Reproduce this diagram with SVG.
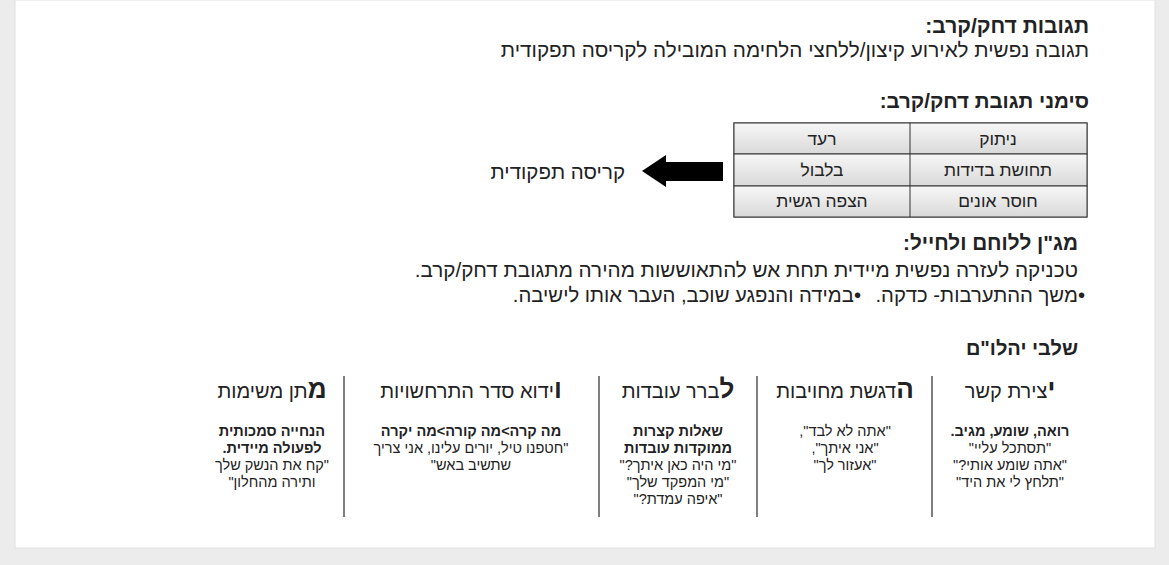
<svg xmlns="http://www.w3.org/2000/svg" width="1169" height="565" viewBox="0 0 1169 565">
<defs>
<linearGradient id="cell" x1="0" y1="0" x2="0" y2="1"><stop offset="0" stop-color="#f7f7f7"/><stop offset="1" stop-color="#d9d9d9"/></linearGradient>
<style>
text{font-family:"Liberation Sans",Arial,sans-serif;fill:#222;direction:rtl}
.r{text-anchor:start}
.c{text-anchor:middle}
.b{font-weight:bold}
.h{font-size:20.7px}
.cell{font-size:17.4px}
.hd{font-size:20px}
.big{font-size:26px;font-weight:bold}
.s{font-size:14.5px}
.div{stroke:#555;stroke-width:1.5}
</style>
</defs>
<rect width="1169" height="565" fill="#ececec"/>
<rect x="15" y="0" width="1140" height="548" fill="#fff" stroke="#e0e0e0"/>
<g id="header">
<text class="r b" style="font-size:21px" x="1089" y="33">תגובות דחק/קרב:</text>
<text class="r h" x="1089" y="57">תגובה נפשית לאירוע קיצון/ללחצי הלחימה המובילה לקריסה תפקודית</text>
<text class="r b" style="font-size:20.5px" x="1089" y="108">סימני תגובת דחק/קרב:</text>
</g>
<g id="table">
<rect x="734" y="123" width="353" height="94" fill="url(#cell)" stroke="#333"/>
<rect x="734" y="123" width="353" height="31" fill="url(#cell)" stroke="#333"/>
<rect x="734" y="154" width="353" height="32" fill="url(#cell)" stroke="#333"/>
<rect x="734" y="186" width="353" height="31" fill="url(#cell)" stroke="#333"/>
<line x1="910" y1="123" x2="910" y2="217" stroke="#333"/>
<text class="c cell" x="822" y="145">רעד</text>
<text class="c cell" x="998" y="145">ניתוק</text>
<text class="c cell" x="822" y="176">בלבול</text>
<text class="c cell" x="998" y="176">תחושת בדידות</text>
<text class="c cell" x="822" y="207">הצפה רגשית</text>
<text class="c cell" x="998" y="207">חוסר אונים</text>
</g>
<g id="connectors">
<polygon points="642,171 666,155 666,162 723,162 723,181 666,181 666,187" fill="#000"/>
</g>
<g id="collapse">
<text class="r" style="font-size:20.5px" x="625" y="179">קריסה תפקודית</text>
</g>
<g id="magen">
<text class="r b h" x="1078" y="250">מג"ן ללוחם ולחייל:</text>
<text class="r h" x="1078" y="277">טכניקה לעזרה נפשית מיידית תחת אש להתאוששות מהירה מתגובת דחק/קרב.</text>
<text class="r" style="font-size:20.3px" x="1085" y="302">•משך ההתערבות- כדקה.</text>
<text class="r" style="font-size:20.3px" x="861" y="302">•במידה והנפגע שוכב, העבר אותו לישיבה.</text>
<text class="r b" style="font-size:20px" x="1078" y="355">שלבי יהלו"ם</text>
</g>
<g id="dividers">
<line class="div" x1="344" y1="376" x2="344" y2="517"/>
<line class="div" x1="599" y1="376" x2="599" y2="517"/>
<line class="div" x1="757" y1="376" x2="757" y2="517"/>
<line class="div" x1="932" y1="376" x2="932" y2="517"/>
</g>
<g id="step1">
<text class="c hd" x="1010" y="398"><tspan class="big">י</tspan>צירת קשר</text>
<text class="c s b" x="1010" y="436">רואה, שומע, מגיב.</text>
<text class="c s" x="1010" y="453">"תסתכל עליי"</text>
<text class="c s" x="1010" y="470">"אתה שומע אותי?"</text>
<text class="c s" x="1010" y="487">"תלחץ לי את היד"</text>
</g>
<g id="step2">
<text class="c hd" x="845" y="398"><tspan class="big">ה</tspan>דגשת מחויבות</text>
<text class="c s" x="845" y="436">"אתה לא לבד",</text>
<text class="c s" x="845" y="453">"אני איתך",</text>
<text class="c s" x="845" y="470">"אעזור לך"</text>
</g>
<g id="step3">
<text class="c hd" x="678" y="398"><tspan class="big">ל</tspan>ברר עובדות</text>
<text class="c s b" x="678" y="436">שאלות קצרות</text>
<text class="c s b" x="678" y="453">ממוקדות עובדות</text>
<text class="c s" x="678" y="470">"מי היה כאן איתך?"</text>
<text class="c s" x="678" y="487">"מי המפקד שלך"</text>
<text class="c s" x="678" y="504">"איפה עמדת?"</text>
</g>
<g id="step4">
<text class="c hd" x="471" y="398"><tspan class="big">ו</tspan>ידוא סדר התרחשויות</text>
<text class="c s b" x="471" y="436">מה קרה&gt;מה קורה&gt;מה יקרה</text>
<text class="c s" x="471" y="453">"חטפנו טיל, יורים עלינו, אני צריך</text>
<text class="c s" x="471" y="470">שתשיב באש"</text>
</g>
<g id="step5">
<text class="c hd" x="272" y="398"><tspan class="big">מ</tspan>תן משימות</text>
<text class="c s b" x="272" y="436">הנחייה סמכותית</text>
<text class="c s b" x="272" y="453">לפעולה מיידית.</text>
<text class="c s" x="272" y="470">"קח את הנשק שלך</text>
<text class="c s" x="272" y="487">ותירה מהחלון"</text>
</g>
</svg>
